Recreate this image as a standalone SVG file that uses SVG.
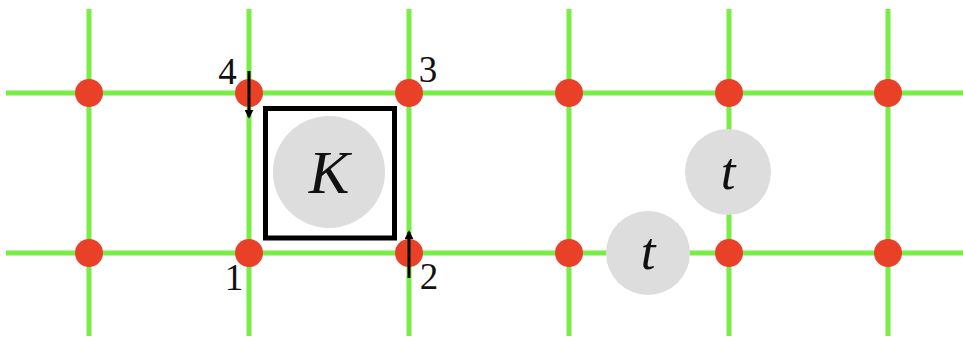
<svg xmlns="http://www.w3.org/2000/svg" width="963" height="337" viewBox="0 0 963 337">
<style>
.g{stroke:#77EE44;stroke-width:5;fill:none}
.d{fill:#E84127}
.c{fill:#DDDDDD}
.lbl{font-family:"Liberation Serif","DejaVu Serif",serif;font-size:37px;fill:#111}
.m{font-family:"Liberation Serif","DejaVu Serif",serif;font-style:italic;fill:#111;text-anchor:middle}
.arr{stroke:#000;stroke-width:3;fill:none;marker-end:url(#ah)}
</style>
<defs>
<marker id="ah" viewBox="0 0 10 10" refX="8" refY="5" markerWidth="3" markerHeight="3" orient="auto" markerUnits="strokeWidth">
<path d="M0,0 L10,5 L0,10 z" fill="#000"/>
</marker>
</defs>
<rect width="963" height="337" fill="#fff"/>
<g id="connectors">
<line class="g" x1="6" y1="93" x2="963" y2="93"/>
<line class="g" x1="6" y1="253" x2="963" y2="253"/>
<line class="g" x1="89" y1="9" x2="89" y2="336"/>
<line class="g" x1="249" y1="9" x2="249" y2="336"/>
<line class="g" x1="409" y1="9" x2="409" y2="336"/>
<line class="g" x1="569" y1="9" x2="569" y2="336"/>
<line class="g" x1="729" y1="9" x2="729" y2="336"/>
<line class="g" x1="888" y1="9" x2="888" y2="336"/>
</g>
<g id="dots">
<circle class="d" cx="89" cy="93" r="14"/>
<circle class="d" cx="249" cy="93" r="14"/>
<circle class="d" cx="409" cy="93" r="14"/>
<circle class="d" cx="569" cy="93" r="14"/>
<circle class="d" cx="729" cy="93" r="14"/>
<circle class="d" cx="888" cy="93" r="14"/>
<circle class="d" cx="89" cy="253" r="14"/>
<circle class="d" cx="249" cy="253" r="14"/>
<circle class="d" cx="409" cy="253" r="14"/>
<circle class="d" cx="569" cy="253" r="14"/>
<circle class="d" cx="729" cy="253" r="14"/>
<circle class="d" cx="888" cy="253" r="14"/>
</g>
<g id="plaquette">
<rect x="265.5" y="108.5" width="129" height="129.5" fill="none" stroke="#000" stroke-width="5"/>
</g>
<g id="K">
<circle class="c" cx="329" cy="172" r="56"/>
<text class="m" x="329" y="193" font-size="61">K</text>
</g>
<g id="t1">
<circle class="c" cx="648" cy="253" r="42"/>
<text class="m" x="648" y="269" font-size="53">t</text>
</g>
<g id="t2">
<circle class="c" cx="728" cy="172" r="43"/>
<text class="m" x="728" y="189" font-size="53">t</text>
</g>
<g id="arrows">
<line class="arr" x1="249" y1="71" x2="249" y2="117"/>
<line class="arr" x1="409" y1="278" x2="409" y2="232"/>
</g>
<g id="labels">
<text class="lbl" x="227.5" y="84" text-anchor="middle">4</text>
<text class="lbl" x="428" y="82" text-anchor="middle">3</text>
<text class="lbl" x="234" y="290" text-anchor="middle">1</text>
<text class="lbl" x="429" y="289" text-anchor="middle">2</text>
</g>
</svg>
